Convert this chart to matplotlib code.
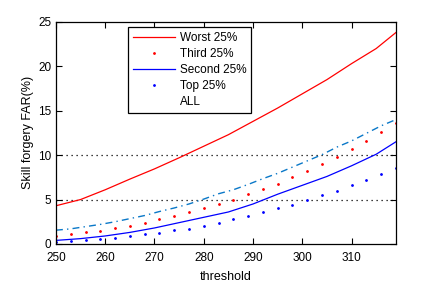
import matplotlib
matplotlib.use('Agg')
import matplotlib.pyplot as plt

plt.rcParams['font.family'] = ['Liberation Sans', 'DejaVu Sans']

# solid curves, every 5 units
x_line = [250, 255, 260, 265, 270, 275, 280, 285, 290, 295, 300, 305, 310, 315, 319]
worst = [4.3, 5.0, 6.1, 7.3, 8.45, 9.7, 11.0, 12.3, 13.8, 15.3, 16.9, 18.5, 20.3, 22.0, 23.8]
second = [0.4, 0.6, 0.9, 1.3, 1.8, 2.4, 3.0, 3.6, 4.5, 5.6, 6.6, 7.6, 8.8, 10.1, 11.5]

# marker series, every 3 units
x_pts = list(range(250, 320, 3))
third = [0.85, 1.1, 1.3, 1.46, 1.77, 2.06, 2.4, 2.8, 3.15, 3.6, 4.05, 4.55,
         5.0, 5.6, 6.2, 6.8, 7.5, 8.25, 9.0, 9.8, 10.65, 11.6, 12.6, 13.6]
top = [0.25, 0.34, 0.4, 0.56, 0.7, 0.9, 1.1, 1.27, 1.54, 1.72, 2.06, 2.4,
       2.8, 3.2, 3.6, 4.0, 4.4, 5.0, 5.5, 6.0, 6.65, 7.2, 7.85, 8.5]
all_far = [1.55, 1.7, 1.95, 2.2, 2.5, 2.85, 3.2, 3.65, 4.05, 4.5, 5.05, 5.65,
           6.1, 6.7, 7.35, 7.95, 8.65, 9.35, 10.05, 10.9, 11.6, 12.45, 13.3, 14.0]

fig = plt.figure(figsize=(4.37, 2.84), dpi=100)
ax = fig.add_axes([0.128, 0.141, 0.778, 0.782])

ax.axhline(5, color='black', ls=(0, (1, 3)), lw=0.9, zorder=1)
ax.axhline(10, color='black', ls=(0, (1, 3)), lw=0.9, zorder=1)

ax.plot(x_line, worst, color='#ff0000', lw=0.9, label='Worst 25%')
ax.plot(x_pts, third, color='#ff0000', ls='none', marker='.', ms=2, label='Third 25%')
ax.plot(x_line, second, color='#0000ff', lw=0.9, label='Second 25%')
ax.plot(x_pts, top, color='#0000ff', ls='none', marker='.', ms=2, label='Top 25%')
ax.plot(x_pts, all_far, color='#0a78c8', lw=1.0, ls=(0, (5, 3, 1, 3)), label='ALL')

ax.set_xlim(250, 319)
ax.set_ylim(0, 25)
ax.set_xticks([250, 260, 270, 280, 290, 300, 310])
ax.set_yticks([0, 5, 10, 15, 20, 25])
ax.tick_params(direction='in', length=4, top=True, right=True, labelsize=8.5, width=0.8)
ax.tick_params(axis='x', pad=6)
for s in ax.spines.values():
    s.set_linewidth(0.9)
ax.set_xlabel('threshold', fontsize=9, labelpad=5)
ax.set_ylabel('Skill forgery FAR(%)', fontsize=9, labelpad=3)

leg = ax.legend(loc='upper left', bbox_to_anchor=(0.212, 0.977), borderaxespad=0,
                fontsize=8.5, handlelength=3.6, handletextpad=0.4, labelspacing=0.35,
                borderpad=0.4, fancybox=False, framealpha=1, edgecolor='black')
leg.get_frame().set_linewidth(0.9)
leg.legend_handles[4].set_visible(False)

fig.savefig('out.png', dpi=100)
